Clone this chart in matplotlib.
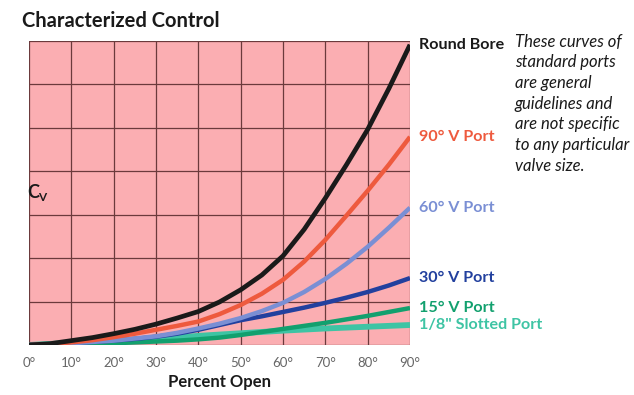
import numpy as np
import matplotlib
matplotlib.use("Agg")
import matplotlib.pyplot as plt

plt.rcParams['font.family'] = ['Lato', 'DejaVu Sans']

# percent open (degrees) and relative Cv
x_open = [0, 5, 10, 15, 20, 25, 30, 35, 40, 45, 50, 55, 60, 65, 70, 75, 80, 85, 90]
cv_round = [0, 0.03, 0.10, 0.17, 0.26, 0.36, 0.48, 0.62, 0.77, 0.99, 1.27, 1.61, 2.05, 2.66, 3.38, 4.15, 4.96, 5.90, 6.91]
cv_v90 = [0, 0.02, 0.06, 0.11, 0.18, 0.26, 0.35, 0.44, 0.54, 0.71, 0.92, 1.18, 1.50, 1.92, 2.42, 2.98, 3.55, 4.15, 4.79]
cv_v60 = [0, 0.02, 0.04, 0.07, 0.10, 0.15, 0.20, 0.28, 0.38, 0.49, 0.62, 0.78, 0.97, 1.22, 1.52, 1.87, 2.26, 2.70, 3.16]
cv_v30 = [0, 0.02, 0.04, 0.07, 0.10, 0.14, 0.19, 0.26, 0.35, 0.46, 0.57, 0.66, 0.76, 0.86, 0.97, 1.09, 1.22, 1.37, 1.54]
cv_v15 = [0, 0.007, 0.015, 0.027, 0.04, 0.06, 0.08, 0.10, 0.13, 0.17, 0.23, 0.30, 0.37, 0.44, 0.51, 0.59, 0.67, 0.76, 0.85]
cv_slot = [0, 0.025, 0.05, 0.075, 0.10, 0.12, 0.14, 0.175, 0.21, 0.24, 0.27, 0.30, 0.33, 0.355, 0.38, 0.40, 0.42, 0.44, 0.46]

tick_vals = [0, 10, 20, 30, 40, 50, 60, 70, 80, 90]
tick_labels = ['%d°' % t for t in tick_vals]

series = [
    (cv_slot, '#3ec4a4', 4.2, '1/8" Slotted Port'),
    (cv_v15, '#12a06e', 3.2, '15° V Port'),
    (cv_v30, '#22409e', 3.2, '30° V Port'),
    (cv_v60, '#7a8fd4', 3.2, '60° V Port'),
    (cv_v90, '#ee5a3e', 3.2, '90° V Port'),
    (cv_round, '#1a1a1a', 3.4, 'Round Bore'),
]

fig = plt.figure(figsize=(6.34, 3.95), dpi=100)
ax = fig.add_axes([0.0457, 0.1266, 0.601, 0.770])
ax.set_facecolor('#fbaeb2')
ax.set_xlim(0, 90)
ax.set_ylim(0, 7)

for v in tick_vals:
    ax.axvline(v, color='#6b3a3c', lw=0.9, zorder=1)
for h in range(0, 8):
    ax.axhline(h, color='#6b3a3c', lw=0.9, zorder=1)

for ys, col, lw, lab in series:
    ax.plot(x_open, ys, color=col, lw=lw, solid_capstyle='butt',
            solid_joinstyle='round', zorder=3)
    ax.text(92.2, ys[-1], lab, color=col, fontsize=11.6, fontweight='bold',
            va='center', ha='left', clip_on=False)

for s in ax.spines.values():
    s.set_visible(False)
ax.set_xticks(tick_vals)
ax.set_xticklabels(tick_labels, color='#666666', fontsize=9.5)
ax.set_yticks([])
ax.tick_params(axis='x', length=0, pad=9)
ax.set_xlabel('Percent Open', fontsize=12, fontweight='bold', color='#1a1a1a', labelpad=3)

fig.text(0.052, 0.513, 'C', fontsize=13, fontweight='bold', color='#1a1a1a', ha='center', va='center')
fig.text(0.067, 0.501, 'V', fontsize=8.5, fontweight='bold', color='#1a1a1a', ha='center', va='center')

fig.text(0.035, 0.948, 'Characterized Control', fontsize=14.5, fontweight='bold',
         color='#1a1a1a', ha='left', va='center')

note = ('These curves of\nstandard ports\nare general\nguidelines and\n'
        'are not specific\nto any particular\nvalve size.')
fig.text(0.812, 0.915, note, fontsize=12, style='italic', color='#1a1a1a',
         ha='left', va='top', linespacing=1.36)

fig.savefig('out.png', dpi=100)
